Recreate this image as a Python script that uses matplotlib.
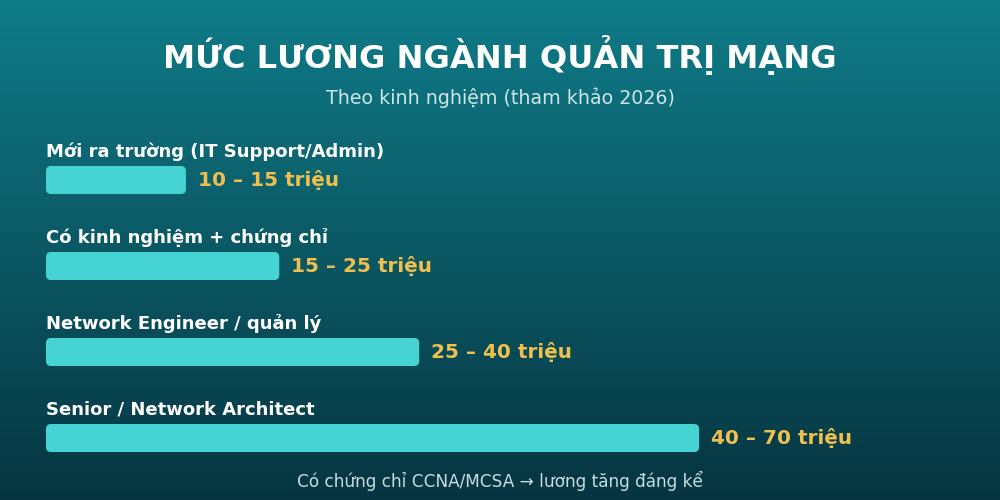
import numpy as np
import matplotlib
matplotlib.use("Agg")
import matplotlib.pyplot as plt
from matplotlib.patches import FancyBboxPatch
from matplotlib.colors import LinearSegmentedColormap

# data
levels = ["Mới ra trường (IT Support/Admin)",
          "Có kinh nghiệm + chứng chỉ",
          "Network Engineer / quản lý",
          "Senior / Network Architect"]
low = [10, 15, 25, 40]
high = [15, 25, 40, 70]
title = "MỨC LƯƠNG NGÀNH QUẢN TRỊ MẠNG"
subtitle = "Theo kinh nghiệm (tham khảo 2026)"
footer = "Có chứng chỉ CCNA/MCSA → lương tăng đáng kể"

plt.rcParams['font.family'] = ['DejaVu Sans']

fig = plt.figure(figsize=(10, 5), dpi=100)

# background gradient, pixel coords
bg = fig.add_axes([0, 0, 1, 1])
bg.set_xlim(0, 1000)
bg.set_ylim(500, 0)
bg.axis('off')
cmap = LinearSegmentedColormap.from_list('bg', ['#0f7c88', '#063541'])
grad = np.linspace(0, 1, 256).reshape(-1, 1)
bg.imshow(grad, cmap=cmap, extent=[0, 1000, 500, 0], aspect='auto', zorder=0)

bg.text(500, 68, title, ha='center', va='baseline', color='white',
        fontsize=23.1, fontweight='bold')
bg.text(500, 104, subtitle, ha='center', va='baseline', color='#cce6e8',
        fontsize=13.7)
bg.text(500, 487, footer, ha='center', va='baseline', color='#c6dde0',
        fontsize=12.2)

# bars: x in millions (0..100 -> px 46..979), y in rows
ax = fig.add_axes([0.046, 0.038, 0.933, 0.688])
ax.set_xlim(0, 100)
ax.set_ylim(3.5, -0.5)
ax.axis('off')
ax.patch.set_alpha(0)

bar_h = 28 / 86
rx = 5 / 9.33
ry = 5 / 86
for i, name in enumerate(levels):
    box = FancyBboxPatch((0, i - bar_h / 2), high[i], bar_h,
                         boxstyle="round,pad=0,rounding_size=%f" % rx,
                         mutation_aspect=ry / rx,
                         facecolor='#45d3d3', edgecolor='none')
    ax.add_patch(box)
    ax.text(0, i - 23 / 86, name, ha='left', va='baseline', color='white',
            fontsize=13, fontweight='bold')
    ax.text(high[i] + 1.29, i + 6.5 / 86, "%d – %d triệu" % (low[i], high[i]),
            ha='left', va='baseline', color='#f0c04e', fontsize=14.4,
            fontweight='bold')

fig.savefig('out.png', dpi=100)
